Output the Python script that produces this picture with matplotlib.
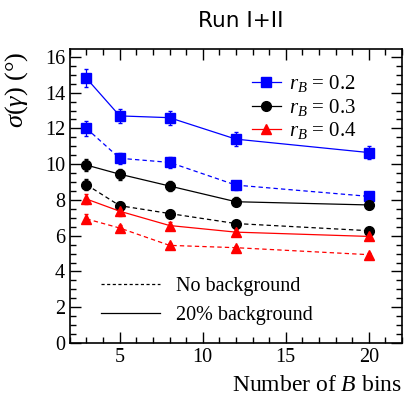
import matplotlib
matplotlib.use("Agg")
import matplotlib.pyplot as plt
from matplotlib.lines import Line2D
from matplotlib.ticker import MultipleLocator

plt.rcParams['mathtext.fontset'] = 'custom'
plt.rcParams['mathtext.rm'] = 'Liberation Serif'
plt.rcParams['mathtext.it'] = 'Liberation Serif:italic'
plt.rcParams['font.family'] = ['Liberation Serif', 'DejaVu Serif']

nbins = [3, 5, 8, 12, 20]

r02_bkg = [14.8, 12.7, 12.6, 11.4, 10.65]
r02_bkg_err = [0.5, 0.4, 0.4, 0.4, 0.35]
r02_nobkg = [12.0, 10.33, 10.1, 8.83, 8.2]
r02_nobkg_err = [0.4, 0.3, 0.3, 0.25, 0.25]

r03_bkg = [9.95, 9.44, 8.78, 7.9, 7.72]
r03_bkg_err = [0.35, 0.3, 0.3, 0.25, 0.25]
r03_nobkg = [8.85, 7.68, 7.24, 6.68, 6.28]
r03_nobkg_err = [0.3, 0.2, 0.2, 0.15, 0.15]

r04_bkg = [8.05, 7.37, 6.57, 6.2, 5.96]
r04_bkg_err = [0.3, 0.25, 0.2, 0.2, 0.15]
r04_nobkg = [6.94, 6.43, 5.46, 5.33, 4.94]
r04_nobkg_err = [0.25, 0.15, 0.15, 0.12, 0.12]

labels = [r'$r_B$ = 0.2', r'$r_B$ = 0.3', r'$r_B$ = 0.4']

fig = plt.figure(figsize=(4.04, 3.97), dpi=100)
ax = fig.add_axes([0.173, 0.136, 0.822, 0.741])

dash = (0, (3.5, 2.5))
series = [
    (r02_bkg, r02_bkg_err, r02_nobkg, r02_nobkg_err, 'blue', 's', 6.5),
    (r03_bkg, r03_bkg_err, r03_nobkg, r03_nobkg_err, 'black', 'o', 7),
    (r04_bkg, r04_bkg_err, r04_nobkg, r04_nobkg_err, 'red', '^', 7),
]
handles = []
for (yb, eb, yn, en, c, m, ms), lab in zip(series, labels):
    ax.errorbar(nbins, yn, yerr=en, color=c, marker=m, ms=ms, ls=dash, lw=0.9,
                capsize=1.5, elinewidth=0.9)
    ax.errorbar(nbins, yb, yerr=eb, color=c, marker=m, ms=ms, ls='-', lw=0.9,
                capsize=1.5, elinewidth=0.9)
    handles.append(Line2D([], [], color=c, marker=m, ms=ms, lw=0.9, label=lab))

ax.set_xlim(2, 22)
ax.set_ylim(0, 16.45)
ax.xaxis.set_major_locator(MultipleLocator(5))
ax.xaxis.set_minor_locator(MultipleLocator(1))
ax.yaxis.set_major_locator(MultipleLocator(2))
ax.yaxis.set_minor_locator(MultipleLocator(0.5))
ax.tick_params(which='both', direction='in', top=True, right=True, labelsize=14.5)
ax.tick_params(which='major', length=8, width=1)
ax.tick_params(which='minor', length=4, width=1)
for s in ax.spines.values():
    s.set_linewidth(1.2)

leg1 = ax.legend(handles=handles, loc='upper right', bbox_to_anchor=(0.92, 0.98),
                 frameon=False, fontsize=15, handlelength=1.4, handletextpad=0.4,
                 labelspacing=0.12)
ax.add_artist(leg1)
h2 = [Line2D([], [], color='black', ls=(0, (2.5, 2)), lw=0.9, label='No background'),
      Line2D([], [], color='black', ls='-', lw=0.9, label='20% background')]
ax.legend(handles=h2, loc='lower left', bbox_to_anchor=(0.04, 0.0), frameon=False,
          fontsize=14.5, handlelength=2.9, handletextpad=0.8, labelspacing=0.5)

ax.set_ylabel(r'$\sigma(\gamma)$ ($\degree$)', fontsize=19)
ax.yaxis.set_label_coords(-0.12, 0.86)
ax.set_xlabel(r'Number of $B$ bins', fontsize=17)
ax.xaxis.set_label_coords(1.0, -0.11)
ax.xaxis.label.set_horizontalalignment('right')

fig.text(0.595, 0.948, 'Run I+II', ha='center', va='center', fontsize=15.5,
         family='DejaVu Sans')

fig.savefig('out.png', dpi=100)
